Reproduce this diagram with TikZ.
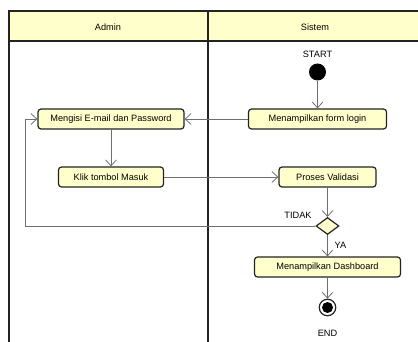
\documentclass[tikz,border=0pt]{standalone}
\usepackage{fontspec}
\setmainfont{Liberation Sans}
\usetikzlibrary{arrows.meta,shapes.geometric}
\definecolor{fillY}{RGB}{255,255,204}
\definecolor{conn}{RGB}{110,110,110}
\definecolor{edge}{RGB}{35,35,35}
\begin{document}
\begin{tikzpicture}[x=1pt,y=-1pt,
  act/.style={draw=edge, line width=1.2pt, fill=fillY, rounded corners=3pt,
    font=\fontsize{9.2}{11}\selectfont, inner sep=0pt, minimum height=20pt},
  flow/.style={draw=conn, line width=0.8pt, -{Straight Barb[length=6pt,width=11pt]}},
  lbl/.style={font=\fontsize{9.2}{11}\selectfont, inner sep=0pt},
  lane/.style={draw=edge, line width=1.3pt}]
\useasboundingbox (0,0) rectangle (418,342);
% swimlanes
\fill[fillY] (9,11) rectangle (418,41);
\draw[lane] (418,11) -- (9,11) -- (9,342);
\draw[lane] (9,41) -- (418,41);
\draw[lane] (208,11) -- (208,342);
\node[lbl] (admin) at (108,27) {Admin};
\node[lbl] (sistem) at (315,27) {Sistem};
% nodes
\node[lbl] (startlbl) at (317.5,54) {START};
\node[circle, fill=black, minimum size=17pt, inner sep=0pt] (start) at (317.5,72) {};
\node[act, minimum width=138pt] (form) at (317.5,119) {Menampilkan form login};
\node[act, minimum width=146pt] (isi) at (111,119) {Mengisi E-mail dan Password};
\node[act, minimum width=105pt] (klik) at (111,177) {Klik tombol Masuk};
\node[act, minimum width=97pt] (proses) at (327.5,177) {Proses Validasi};
\node[diamond, draw=edge, fill=fillY, line width=1.2pt, minimum width=23pt,
      minimum height=17pt, inner sep=0pt] (dec) at (327.5,226) {};
\node[lbl] (tidak) at (298,215) {TIDAK};
\node[lbl] (ya) at (340.5,245) {YA};
\node[act, minimum width=146pt] (dash) at (327.5,267) {Menampilkan Dashboard};
\node[circle, draw=edge, line width=1.2pt, fill=white, minimum size=16.5pt, inner sep=0pt] (end) at (327.5,307.5) {};
\fill[black] (end.center) circle[radius=5.5pt];
\node[lbl] (endlbl) at (327.5,333) {END};
% connectors
\coordinate (loopx) at (25,0);
\draw[flow] (start) -- (form);
\draw[flow] (form) -- (isi);
\draw[flow] (isi) -- (klik);
\draw[flow] (klik) -- (proses);
\draw[flow] (proses) -- (dec);
\draw[flow] (dec.west) -- (dec.west -| loopx) |- (isi.west);
\draw[flow] (dec) -- (dash);
\draw[flow] (dash) -- (end);
\end{tikzpicture}
\end{document}
